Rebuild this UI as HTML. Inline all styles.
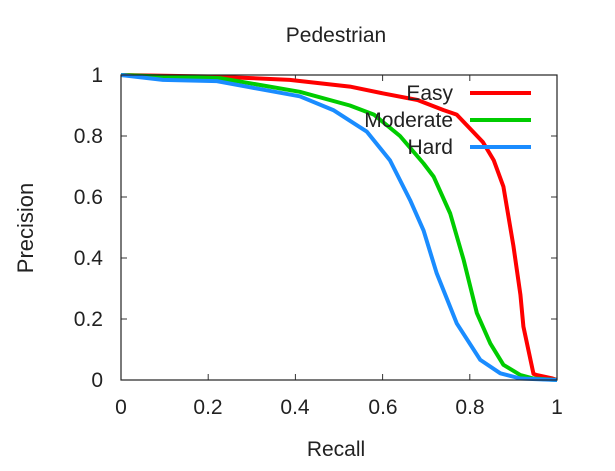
<!DOCTYPE html>
<html><head><style>body{margin:0;background:#fff}svg text{font-family:"Liberation Sans",sans-serif;font-size:21px;fill:#222}</style></head><body>
<svg id="s" width="615" height="466" xmlns="http://www.w3.org/2000/svg">
<text x="336" y="42" text-anchor="middle">Pedestrian</text>
<text x="336" y="456" text-anchor="middle">Recall</text>
<text transform="translate(33,228) rotate(-90)" text-anchor="middle" style="font-size:22px">Precision</text>
<g text-anchor="end">
<text x="103" y="82">1</text><text x="103" y="143">0.8</text><text x="103" y="204">0.6</text><text x="103" y="265">0.4</text><text x="103" y="326">0.2</text><text x="103" y="387">0</text></g>
<g text-anchor="middle">
<text x="121" y="414">0</text><text x="208" y="414">0.2</text><text x="295" y="414">0.4</text><text x="383" y="414">0.6</text><text x="470" y="414">0.8</text><text x="557" y="414">1</text></g>
<g id="ticks" stroke="#333" stroke-width="1"></g>
<g id="curves" fill="none" stroke-width="4" stroke-linejoin="round"></g>
<rect x="121" y="75" width="436" height="305" fill="none" stroke="#222" stroke-width="1.2"/>
<g text-anchor="end">
<text x="453" y="100">Easy</text><text x="453" y="127">Moderate</text><text x="453" y="154">Hard</text></g>
<line x1="470" y1="93" x2="531" y2="93" stroke="#f00" stroke-width="4"/>
<line x1="470" y1="120" x2="531" y2="120" stroke="#0c0" stroke-width="4"/>
<line x1="470" y1="147" x2="531" y2="147" stroke="#1a8cff" stroke-width="4"/>
</svg>
<script>
var X=function(v){return 121+436*v},Y=function(v){return 380-305*v};
var t='';
for(var i=1;i<5;i++){var x=X(i/5),y=Y(i/5);t+='<line x1="'+x+'" y1="380" x2="'+x+'" y2="374"/><line x1="'+x+'" y1="75" x2="'+x+'" y2="81"/><line x1="121" y1="'+y+'" x2="127" y2="'+y+'"/><line x1="557" y1="'+y+'" x2="551" y2="'+y+'"/>';}
document.getElementById('ticks').innerHTML=t;
var D={
"#f00":[[0,1],[0.2,0.995],[0.3,0.99],[0.387,0.984],[0.525,0.962],[0.6,0.94],[0.68,0.918],[0.74,0.885],[0.77,0.87],[0.83,0.78],[0.855,0.72],[0.877,0.634],[0.9,0.44],[0.916,0.28],[0.923,0.175],[0.946,0.02],[0.954,0.016],[0.99,0.005],[1,0]],
"#0c0":[[0,1],[0.1,0.995],[0.227,0.99],[0.41,0.945],[0.525,0.9],[0.58,0.87],[0.64,0.8],[0.694,0.71],[0.717,0.667],[0.755,0.546],[0.786,0.393],[0.816,0.22],[0.847,0.12],[0.877,0.05],[0.916,0.016],[0.946,0.005],[1,0]],
"#1a8cff":[[0,1],[0.096,0.984],[0.22,0.98],[0.295,0.96],[0.41,0.93],[0.487,0.885],[0.564,0.814],[0.617,0.72],[0.663,0.59],[0.694,0.49],[0.724,0.35],[0.77,0.186],[0.824,0.066],[0.87,0.022],[0.916,0.005],[1,0]]};
var c='';for(var k in D){c+='<polyline stroke="'+k+'" points="'+D[k].map(function(p){return X(p[0]).toFixed(1)+','+Y(p[1]).toFixed(1)}).join(' ')+'"/>';}
document.getElementById('curves').innerHTML=c;
</script>
</body></html>
